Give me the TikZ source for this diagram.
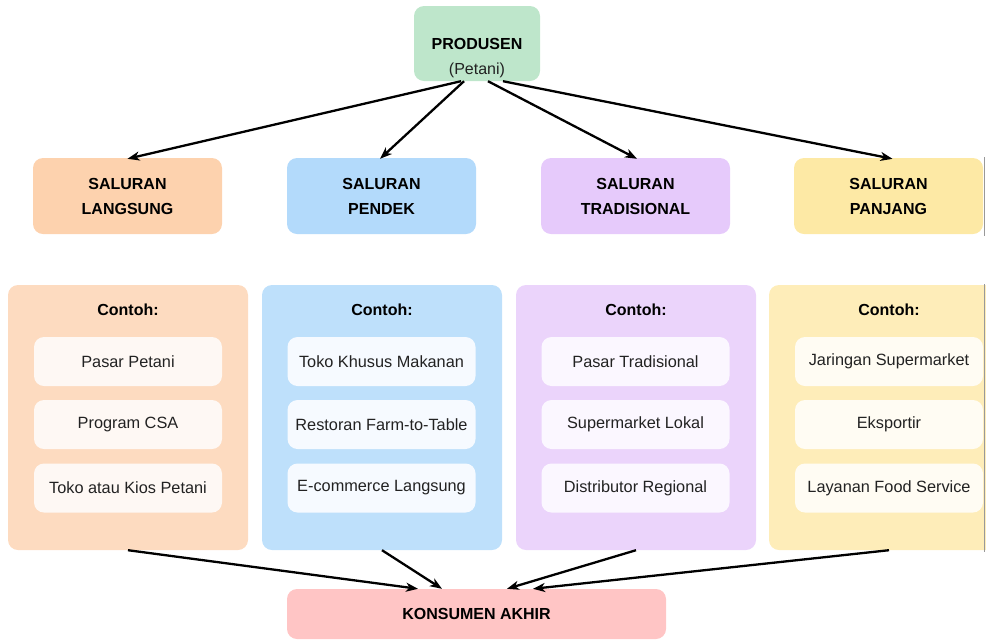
\documentclass[tikz,border=0pt]{standalone}
\usepackage{fontspec}
\setmainfont{Liberation Sans}
\usetikzlibrary{arrows.meta,calc}

\definecolor{prodfill}{HTML}{BEE6CB}
\definecolor{konfill}{HTML}{FFC5C5}
\definecolor{langA}{HTML}{FDD2AE}\definecolor{langB}{HTML}{FDDBC0}\definecolor{langC}{HTML}{FEF8F4}
\definecolor{pendA}{HTML}{B3DAFB}\definecolor{pendB}{HTML}{BEE0FB}\definecolor{pendC}{HTML}{F6FAFF}
\definecolor{tradA}{HTML}{E6CAFB}\definecolor{tradB}{HTML}{EBD4FB}\definecolor{tradC}{HTML}{FBF7FF}
\definecolor{panjA}{HTML}{FDE9A5}\definecolor{panjB}{HTML}{FEEDB9}\definecolor{panjC}{HTML}{FFFCF3}
\definecolor{txtgray}{HTML}{222222}

\tikzset{
  boxbase/.style={rounded corners=10pt, inner sep=0pt, align=center},
  chanbox/.style={boxbase, minimum width=189pt, minimum height=76pt,
    font=\bfseries\fontsize{16}{25}\selectfont},
  exbox/.style={boxbase, minimum width=240pt, minimum height=265pt},
  itembox/.style={boxbase, minimum width=188pt, minimum height=49pt,
    font=\fontsize{16.3}{19}\selectfont, text=txtgray},
  headtxt/.style={font=\bfseries\fontsize{16}{19}\selectfont, inner sep=0pt},
  subtxt/.style={font=\fontsize{16}{19}\selectfont, text=txtgray, inner sep=0pt},
  flow/.style={line width=2.3pt, -{Stealth[length=12pt,width=9pt,inset=3.5pt]}},
  edgeline/.style={draw=black!40, line width=0.8pt}
}

\begin{document}
\begin{tikzpicture}[x=1pt,y=-1pt]
\useasboundingbox (0,0) rectangle (986,641);
\clip (0,0) rectangle (986,641);

% producer
\node[boxbase, fill=prodfill, minimum width=126pt, minimum height=75pt] (prod) at (477,43.5) {};
\node[headtxt] (prodT) at (477,44) {PRODUSEN};
\node[subtxt] (prodS) at (477,70) {(Petani)};

% distribution channels
\node[chanbox, fill=langA] (c1) at (127.5,196) {SALURAN\\LANGSUNG};
\node[chanbox, fill=pendA] (c2) at (381.5,196) {SALURAN\\PENDEK};
\node[chanbox, fill=tradA] (c3) at (635.5,196) {SALURAN\\TRADISIONAL};
\node[chanbox, fill=panjA] (c4) at (888.5,196) {SALURAN\\PANJANG};

% example panels
\node[exbox, fill=langB] (e1) at (128,417.5) {};
\node[exbox, fill=pendB] (e2) at (382,417.5) {};
\node[exbox, fill=tradB] (e3) at (636,417.5) {};
\node[exbox, fill=panjB] (e4) at (889,417.5) {};

\node[headtxt] (h1) at (128,310) {Contoh:};
\node[headtxt] (h2) at (382,310) {Contoh:};
\node[headtxt] (h3) at (636,310) {Contoh:};
\node[headtxt] (h4) at (889,310) {Contoh:};

\node[itembox, fill=langC] (i11) at (128,361.5) {Pasar Petani};
\node[itembox, fill=langC] (i12) at (128,424.5) {Program CSA};
\node[itembox, fill=langC] (i13) at (128,488) {Toko atau Kios Petani};

\node[itembox, fill=pendC] (i21) at (381.5,361.5) {Toko Khusus Makanan};
\node[itembox, fill=pendC] (i22) at (381.5,424.5) {Restoran Farm-to-Table};
\node[itembox, fill=pendC] (i23) at (381.5,488) {E-commerce Langsung};

\node[itembox, fill=tradC] (i31) at (635.5,361.5) {Pasar Tradisional};
\node[itembox, fill=tradC] (i32) at (635.5,424.5) {Supermarket Lokal};
\node[itembox, fill=tradC] (i33) at (635.5,488) {Distributor Regional};

\node[itembox, fill=panjC] (i41) at (889,361.5) {Jaringan Supermarket};
\node[itembox, fill=panjC] (i42) at (889,424.5) {Eksportir};
\node[itembox, fill=panjC] (i43) at (889,488) {Layanan Food Service};

% end consumer
\node[boxbase, fill=konfill, minimum width=379pt, minimum height=50pt,
  font=\bfseries\fontsize{16}{19}\selectfont] (kon) at (476.5,614) {KONSUMEN AKHIR};

% producer to channels
\draw[flow] ($(prod.south)+(-16,0)$) -- ($(c1.north)+(0,1)$);
\draw[flow] ($(prod.south)+(-13,0)$) -- ($(c2.north)+(-1.5,1)$);
\draw[flow] ($(prod.south)+(11,0)$)  -- ($(c3.north)+(1.5,1)$);
\draw[flow] ($(prod.south)+(26,0)$)  -- ($(c4.north)+(4,1)$);

% panels to consumer
\draw[flow] (e1.south) -- ($(kon.north)+(-58.5,0)$);
\draw[flow] (e2.south) -- ($(kon.north)+(-34.5,0)$);
\draw[flow] (e3.south) -- ($(kon.north)+(30.5,0)$);
\draw[flow] (e4.south) -- ($(kon.north)+(56.5,0)$);

% right edge rules
\draw[edgeline] (984.8,157) -- (984.8,236);
\draw[edgeline] (984.8,284) -- (984.8,552);
\end{tikzpicture}
\end{document}
